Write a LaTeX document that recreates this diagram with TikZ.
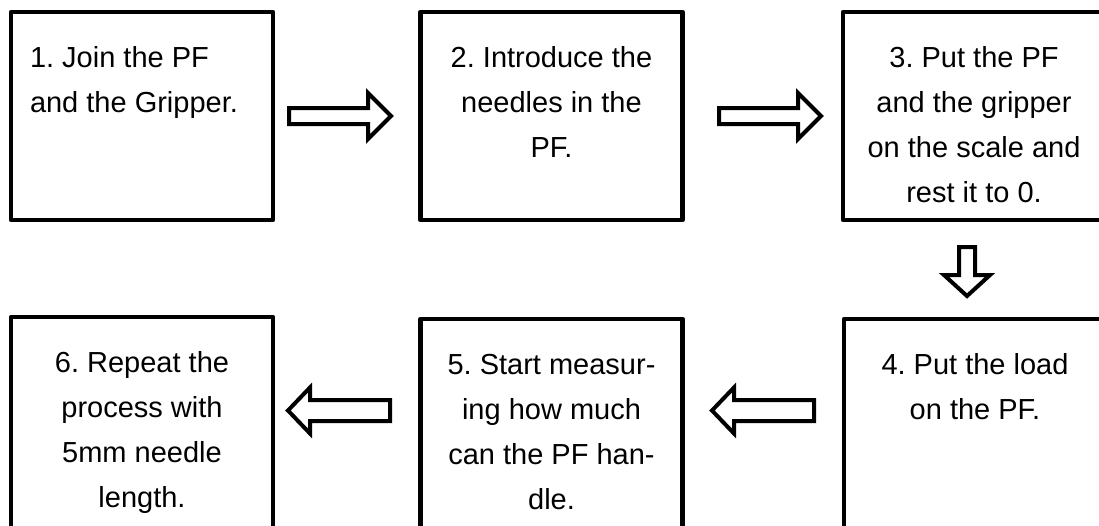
\documentclass[tikz,border=0pt]{standalone}
\usepackage{fontspec}
\setmainfont{Liberation Sans}
\frenchspacing
% text block of a step: fixed height, first baseline 55pt below the top
\def\stepht{208pt}
\newcommand\steptext[2][\centering]{%
  \begin{minipage}[t][\stepht][t]{262pt}#1\fontsize{29}{45}\selectfont
  \rule{0pt}{55pt}#2\end{minipage}}
\begin{document}
\begin{tikzpicture}[x=1pt,y=-1pt,
  stepbox/.style={draw=black,line width=4.5pt,line join=round,fill=white,
    inner sep=0pt,outer sep=0pt,minimum width=262pt,minimum height=208pt,anchor=north},
  lowbox/.style={stepbox,minimum height=220pt,execute at begin node={\def\stepht{220pt}}},
  blockarrow/.style={draw=black,line width=4pt,line join=miter,fill=white}]
\clip (0,0) rectangle (1099,525);
\fill[white] (0,0) rectangle (1099,525);

% top row
\node[stepbox] (s1) at (142,12)
  {\steptext[\raggedright\leftskip=19pt\relax]{1. Join the PF\\and the Gripper.}};
\node[stepbox] (s2) at (551.5,12)
  {\steptext{2. Introduce the\\needles in the\\PF.}};
\node[stepbox] (s3) at (974,12)
  {\steptext{3. Put the PF\\and the gripper\\on the scale and\\rest it to 0.}};

% bottom row (runs past the lower edge)
\node[lowbox] (s4) at (975,319)
  {\steptext{4. Put the load\\on the PF.}};
\node[lowbox] (s5) at (551.5,319)
  {\steptext{5. Start measur-\\ing how much\\can the PF han-\\dle.}};
\node[lowbox] (s6) at (142,317)
  {\steptext{6. Repeat the\\process with\\5mm needle\\length.}};

% block arrows: 1 -> 2 -> 3
\draw[blockarrow] (289,108) -- (368,108) -- (368,93) -- (391,116)
  -- (368,139) -- (368,124) -- (289,124) -- cycle;
\draw[blockarrow] (719,108) -- (798,108) -- (798,93) -- (821,116)
  -- (798,139) -- (798,124) -- (719,124) -- cycle;

% 3 -> 4
\draw[blockarrow] (959,247) -- (975,247) -- (975,275) -- (990,275)
  -- (967,296) -- (944,275) -- (959,275) -- cycle;

% 4 -> 5 -> 6
\draw[blockarrow] (814,400) -- (734,400) -- (734,387.5) -- (712,410.5)
  -- (734,433.5) -- (734,421) -- (814,421) -- cycle;
\draw[blockarrow] (390,400) -- (310,400) -- (310,387.5) -- (288,410.5)
  -- (310,433.5) -- (310,421) -- (390,421) -- cycle;
\end{tikzpicture}
\end{document}
